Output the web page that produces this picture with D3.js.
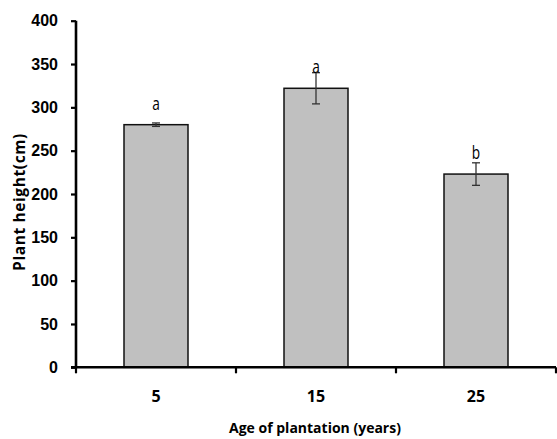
<!DOCTYPE html>
<html>
<head>
<meta charset="utf-8">
<script src="https://cdn.jsdelivr.net/npm/d3@7"></script>
<style>
  body { margin: 0; background: #fff; }
  svg { display: block; font-family: "Open Sans", "Noto Sans", sans-serif; }
</style>
</head>
<body>
<svg id="chart"></svg>
<script>
// chart data
var ages = ['5', '15', '25'];
var heights = [280, 322, 223];
var errors = [2, 18, 13];
var letters = ['a', 'a', 'b'];
var yTicks = [0, 50, 100, 150, 200, 250, 300, 350, 400];

var width = 557,
    height = 439,
    plotLeft = 76,
    plotRight = 556,
    plotTop = 20.7,
    plotBottom = 367.3;

var svg = d3.select('#chart')
    .attr('width', width)
    .attr('height', height);

var x = d3.scaleBand()
    .domain(ages)
    .range([plotLeft, plotRight])
    .paddingInner(0.6)
    .paddingOuter(0.3);

var y = d3.scaleLinear()
    .domain([0, 400])
    .range([plotBottom, plotTop]);

// bars
svg.selectAll('rect.bar')
    .data(heights)
    .enter().append('rect')
    .attr('class', 'bar')
    .attr('x', function (d, i) { return x(ages[i]); })
    .attr('y', function (d) { return y(d); })
    .attr('width', x.bandwidth())
    .attr('height', function (d) { return y(0) - y(d); })
    .attr('fill', '#c0c0c0')
    .attr('stroke', '#111')
    .attr('stroke-width', 1.5);

// error bars
var eb = svg.selectAll('g.err')
    .data(heights)
    .enter().append('g')
    .attr('class', 'err')
    .attr('stroke', '#333')
    .attr('stroke-width', 1.3);

eb.append('line')
    .attr('x1', function (d, i) { return x(ages[i]) + x.bandwidth() / 2; })
    .attr('x2', function (d, i) { return x(ages[i]) + x.bandwidth() / 2; })
    .attr('y1', function (d, i) { return y(d + errors[i]); })
    .attr('y2', function (d, i) { return y(d - errors[i]); });

[1, -1].forEach(function (s) {
    eb.append('line')
        .attr('x1', function (d, i) { return x(ages[i]) + x.bandwidth() / 2 - 4; })
        .attr('x2', function (d, i) { return x(ages[i]) + x.bandwidth() / 2 + 4; })
        .attr('y1', function (d, i) { return y(d + s * errors[i]); })
        .attr('y2', function (d, i) { return y(d + s * errors[i]); });
});

// significance letters (narrow, like the original)
svg.selectAll('text.letter')
    .data(letters)
    .enter().append('text')
    .attr('class', 'letter')
    .attr('transform', function (d, i) {
        return 'translate(' + (x(ages[i]) + x.bandwidth() / 2) + ',' + (y(heights[i]) - 15) + ') scale(0.72,1)';
    })
    .attr('text-anchor', 'middle')
    .style('font-size', '19px')
    .text(function (d) { return d; });

// y axis
var yAxis = svg.append('g')
    .attr('transform', 'translate(' + plotLeft + ',0)')
    .call(d3.axisLeft(y).tickValues(yTicks).tickSize(5).tickPadding(13));
yAxis.select('.domain').attr('stroke-width', 2.6).attr('d', 'M0,' + plotTop + 'V' + plotBottom);
yAxis.selectAll('.tick line').attr('stroke-width', 2.2);
yAxis.selectAll('.tick text')
    .style('font-size', '16px')
    .style('font-weight', 'bold')
    .attr('fill', '#000');

// x axis with ticks at category boundaries
var xAxis = svg.append('g')
    .attr('transform', 'translate(0,' + plotBottom + ')');
xAxis.append('line')
    .attr('x1', plotLeft - 5)
    .attr('x2', plotRight)
    .attr('stroke', '#000')
    .attr('stroke-width', 2.6);
var bounds = [plotLeft].concat(ages.map(function (a) { return x(a) + x.bandwidth() / 2 + x.step() / 2; }));
xAxis.selectAll('line.bt')
    .data(bounds)
    .enter().append('line')
    .attr('class', 'bt')
    .attr('x1', function (d) { return d; })
    .attr('x2', function (d) { return d; })
    .attr('y1', 0)
    .attr('y2', 6)
    .attr('stroke', '#000')
    .attr('stroke-width', 2.2);
xAxis.selectAll('text')
    .data(ages)
    .enter().append('text')
    .attr('x', function (d) { return x(d) + x.bandwidth() / 2; })
    .attr('y', 35)
    .attr('text-anchor', 'middle')
    .style('font-size', '16px')
    .style('font-weight', 'bold')
    .text(function (d) { return d; });

// axis titles
svg.append('text')
    .attr('x', 315)
    .attr('y', 433)
    .attr('text-anchor', 'middle')
    .style('font-size', '14px')
    .style('font-weight', 'bold')
    .text('Age of plantation (years)');

svg.append('text')
    .attr('transform', 'translate(25,202) rotate(-90)')
    .attr('text-anchor', 'middle')
    .style('font-size', '15.5px')
    .style('font-weight', 'bold')
    .style('letter-spacing', '0.6px')
    .text('Plant height(cm)');
</script>
</body>
</html>
